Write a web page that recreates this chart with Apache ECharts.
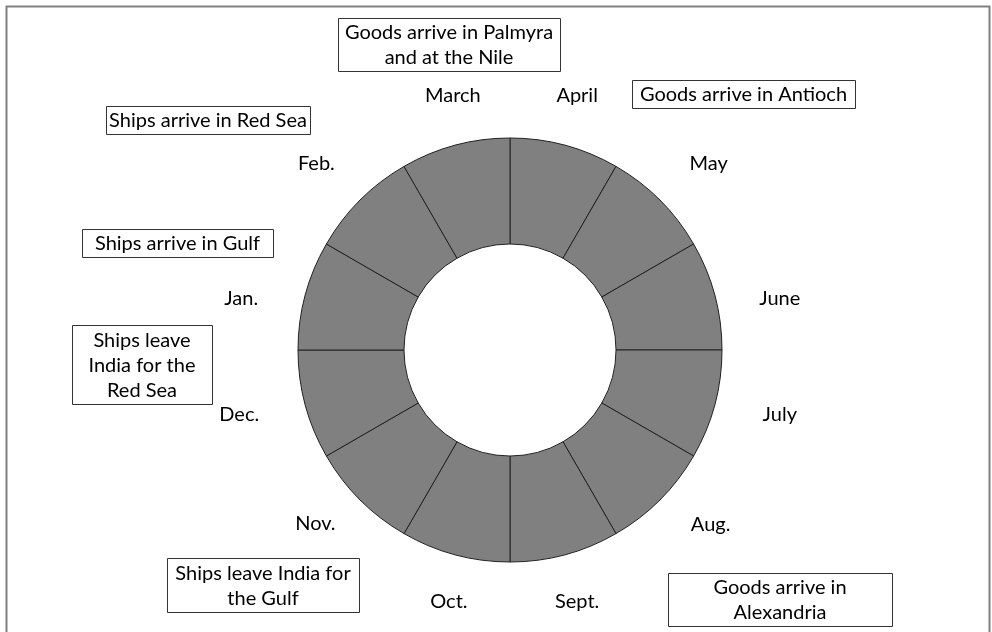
<!DOCTYPE html>
<html>
<head>
<meta charset="utf-8">
<script src="https://cdn.jsdelivr.net/npm/echarts@6/dist/echarts.min.js"></script>
<style>html,body{margin:0;padding:0;background:#fff;}#c{width:992px;height:632px;}</style>
</head>
<body>
<div id="c"></div>
<script>
// Months, clockwise from the top (12 o'clock)
const months = ['April', 'May', 'June', 'July', 'Aug.', 'Sept.', 'Oct.', 'Nov.', 'Dec.', 'Jan.', 'Feb.', 'March'];
const monthShare = [1, 1, 1, 1, 1, 1, 1, 1, 1, 1, 1, 1];
const notes = [
  'Goods arrive in Palmyra\nand at the Nile',
  'Goods arrive in Antioch',
  'Ships arrive in Red Sea',
  'Ships arrive in Gulf',
  'Ships leave\nIndia for the\nRed Sea',
  'Ships leave India for\nthe Gulf',
  'Goods arrive in\nAlexandria'
];
// layout only: boxes for the notes [x, y, width, height]
const noteBoxes = [
  [338, 18, 222, 53],
  [632, 80, 223, 28],
  [106, 106, 204, 28],
  [82, 229, 191, 28],
  [72, 325, 140, 79],
  [167, 558, 192, 54],
  [668, 573, 224, 53]
];
// layout only: nudges of the month labels from their radial spot [dx, dy]
const labelNudge = [
  [-3, 7], [7, 5], [8, 19], [8, -6], [9, -17], [-3, -10],
  [9, -10], [-3, -18], [-9, -6], [-7, 19], [-2, 5], [13, 7]
];

const FONT = 'Lato';
const chart = echarts.init(document.getElementById('c'), null, {renderer: 'canvas'});

const graphics = [
  {type: 'rect', shape: {x: 6.5, y: 6.5, width: 983, height: 660}, style: {fill: 'none', stroke: '#808080', lineWidth: 2}, z: 0}
];
notes.forEach((t, i) => {
  const b = noteBoxes[i];
  graphics.push({
    type: 'rect', shape: {x: b[0] + 0.5, y: b[1] + 0.5, width: b[2], height: b[3]},
    style: {fill: '#fff', stroke: '#333', lineWidth: 1}, z: 5
  });
  graphics.push({
    type: 'text', x: b[0] + b[2] / 2, y: b[1] + b[3] / 2 + 1,
    style: {text: t, fill: '#000', font: '20px ' + FONT, align: 'center', verticalAlign: 'middle', lineHeight: 25},
    z: 6
  });
});

chart.setOption({
  animation: false,
  backgroundColor: '#fff',
  graphic: graphics,
  series: [
    {
      type: 'pie',
      center: [510, 350],
      radius: [106, 212],
      startAngle: 90,
      clockwise: true,
      silent: true,
      label: {show: false},
      labelLine: {show: false},
      itemStyle: {color: '#808080', borderColor: '#222', borderWidth: 1},
      data: months.map((m, i) => ({name: m, value: monthShare[i]}))
    },
    {
      type: 'pie',
      center: [510, 350],
      radius: [248, 288],
      startAngle: 90,
      clockwise: true,
      silent: true,
      itemStyle: {color: 'rgba(0,0,0,0)'},
      label: {show: true, position: 'inside', color: '#000', fontFamily: FONT, fontSize: 20, formatter: '{b}'},
      labelLine: {show: false},
      data: months.map((m, i) => ({name: m, value: monthShare[i], label: {offset: labelNudge[i]}}))
    }
  ]
});
</script>
</body>
</html>
